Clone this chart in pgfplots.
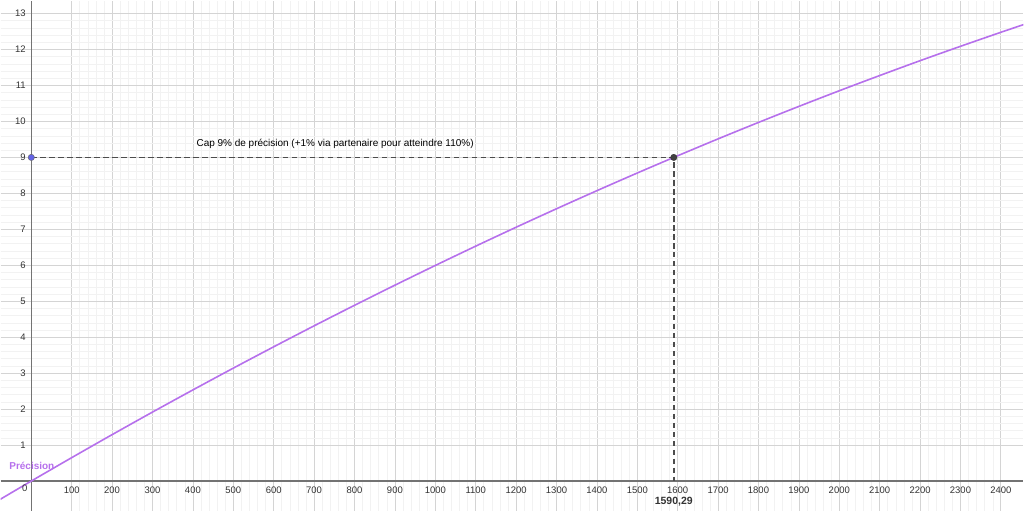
\documentclass[border=0pt]{standalone}
\usepackage{pgfplots}
\pgfplotsset{compat=1.18}
\usepackage{fontspec}
\setmainfont{Liberation Sans}
\definecolor{courbe}{RGB}{182,112,236}
\definecolor{pointbleu}{RGB}{100,100,230}
\begin{document}
\begin{tikzpicture}
  \begin{axis}[
    scale only axis, width=1024pt, height=511pt,
    xmin=-75.9, xmax=2455.6, ymin=-0.833, ymax=13.36,
    axis lines=middle,
    axis line style={-, draw=black!55, line width=1.3pt},
    xtick={100,200,...,2400}, ytick={1,2,...,13},
    minor x tick num=4, minor y tick num=4,
    grid=both,
    major grid style={black!17, line width=0.8pt},
    minor grid style={black!5, line width=0.6pt},
    tick style={draw=none},
    ticklabel style={font=\fontsize{9.5}{11}\selectfont, text=black!80},
    /pgf/number format/assume math mode=true,
    /pgf/number format/1000 sep={},
  ]
    % courbe Précision
    \addplot[courbe, line width=1.6pt, smooth] coordinates {
      (-80,-0.529) (0,0) (100,0.6506) (200,1.290) (300,1.9178) (400,2.534)
      (500,3.1395) (600,3.733) (700,4.3158) (800,4.887) (900,5.4466)
      (1000,5.995) (1100,6.532) (1200,7.058) (1300,7.572) (1400,8.075)
      (1500,8.5665) (1590.29,9.0) (1700,9.5156) (1800,9.973) (1900,10.419)
      (2000,10.854) (2100,11.277) (2200,11.690) (2300,12.090) (2400,12.480)
      (2460,12.708)};
    % cap 9
    \addplot[black!70, dash pattern=on 5.5pt off 3.5pt, line width=1.5pt]
      coordinates {(0,9) (1590.29,9) (1590.29,0)};
    \addplot[only marks, mark=*, mark size=3.2pt, draw=black!60, fill=pointbleu]
      coordinates {(0,9)};
    \addplot[only marks, mark=*, mark size=3.2pt, draw=black!80, fill=black!75]
      coordinates {(1590.29,9)};
    \node[font=\fontsize{9.5}{11}\selectfont, text=black!80] at (axis cs:-16,-0.19) {0};
    \node[font=\fontsize{10}{12}\selectfont] at (axis cs:752,9.39)
      {Cap 9\% de précision (+1\% via partenaire pour atteindre 110\%)};
    \node[font=\bfseries\fontsize{10.5}{12}\selectfont, text=black!80] at (axis cs:1590.29,-0.58) {1590,29};
    \node[anchor=west, font=\bfseries\fontsize{10}{12}\selectfont, text=courbe] at (axis cs:-63,0.42) {Précision};
  \end{axis}
\end{tikzpicture}
\end{document}
